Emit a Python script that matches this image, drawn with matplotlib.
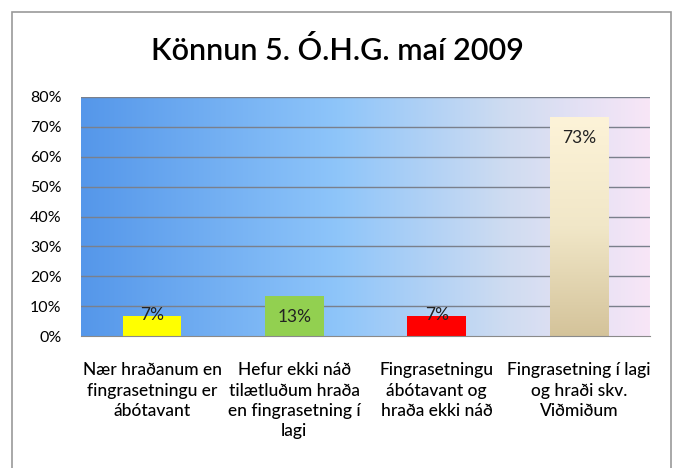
import numpy as np
import matplotlib
matplotlib.use("Agg")
import matplotlib.pyplot as plt
from matplotlib.colors import LinearSegmentedColormap
from matplotlib.patches import Rectangle

# survey results, share of pupils per category
categories = [
    "Nær hraðanum en\nfingrasetningu er\nábótavant",
    "Hefur ekki náð\ntilætluðum hraða\nen fingrasetning í\nlagi",
    "Fingrasetningu\nábótavant og\nhraða ekki náð",
    "Fingrasetning í lagi\nog hraði skv.\nViðmiðum",
]
values = [0.067, 0.133, 0.067, 0.733]
value_labels = ["7%", "13%", "7%", "73%"]
bar_colors = ["#ffff00", "#92d050", "#ff0000", None]  # last one gets a gradient
yticks = [0, 0.1, 0.2, 0.3, 0.4, 0.5, 0.6, 0.7, 0.8]
ytick_labels = ["0%", "10%", "20%", "30%", "40%", "50%", "60%", "70%", "80%"]

FONT = ["Lato", "DejaVu Sans"]

W, H = 675, 468
fig = plt.figure(figsize=(W / 100, H / 100), dpi=100)
fig.patch.set_facecolor("white")

# outer chart border
fig.patches.append(Rectangle((12 / W, -0.01), (671 - 12) / W, (H - 12) / H + 0.01,
                             transform=fig.transFigure, fill=False,
                             edgecolor="#9a9a9a", lw=1.2))

ax = fig.add_axes([81 / W, 1 - 336 / H, (650 - 81) / W, (336 - 97) / H])
x = np.arange(len(values))
ax.set_xlim(-0.5, len(values) - 0.5)
ax.set_ylim(0, 0.8)

# plot-area background: blue on the left fading to pale pink on the right
bg = LinearSegmentedColormap.from_list("bg", [
    (0.0, "#5597ea"), (0.45, "#8ec5fa"), (0.75, "#cfdcf1"), (1.0, "#f8e6f7")])
ax.imshow(np.linspace(0, 1, 256)[None, :], cmap=bg, aspect="auto",
          extent=(-0.5, len(values) - 0.5, 0, 0.8), zorder=0)

for yv in yticks[1:]:
    ax.axhline(yv, color="#7a808c", lw=1.0, zorder=1)

bars = ax.bar(x, values, width=0.41, zorder=2, linewidth=0)
for b, c in zip(bars, bar_colors):
    if c is not None:
        b.set_facecolor(c)
    else:
        b.set_facecolor("none")
        beige = LinearSegmentedColormap.from_list("beige", ["#d4c39a", "#f1e7c8", "#fdf3d8"])
        im = ax.imshow(np.linspace(0, 1, 256)[:, None], cmap=beige, aspect="auto",
                       origin="lower",
                       extent=(b.get_x(), b.get_x() + b.get_width(), 0, b.get_height()),
                       zorder=2)
        im.set_clip_path(b)

# labels sit inside the bar end; short bars push them up to the bar top
for b, lab in zip(bars, value_labels):
    h = b.get_height()
    ly = h - 0.07 if h > 0.1 else h + 0.004
    ax.text(b.get_x() + b.get_width() / 2, ly, lab,
            ha="center", va="center", fontsize=12.5, color="#222222",
            family=FONT, zorder=3)

ax.set_yticks(yticks)
ax.set_yticklabels(ytick_labels, family=FONT, fontsize=11.5)
ax.set_xticks(x)
ax.set_xticklabels(categories, family=FONT, fontsize=12.5, linespacing=1.32,
                   fontweight="medium")
ax.tick_params(length=0)
ax.tick_params(axis="y", pad=14)
ax.tick_params(axis="x", pad=19)
for side in ["top", "right", "left"]:
    ax.spines[side].set_visible(False)
ax.spines["bottom"].set_color("#8a8a8a")

fig.text(0.5, 1 - 50 / H, "Könnun 5. Ó.H.G. maí 2009", ha="center", va="center",
         fontsize=22, family=FONT, fontweight="semibold")

fig.savefig("out.png", dpi=100)
